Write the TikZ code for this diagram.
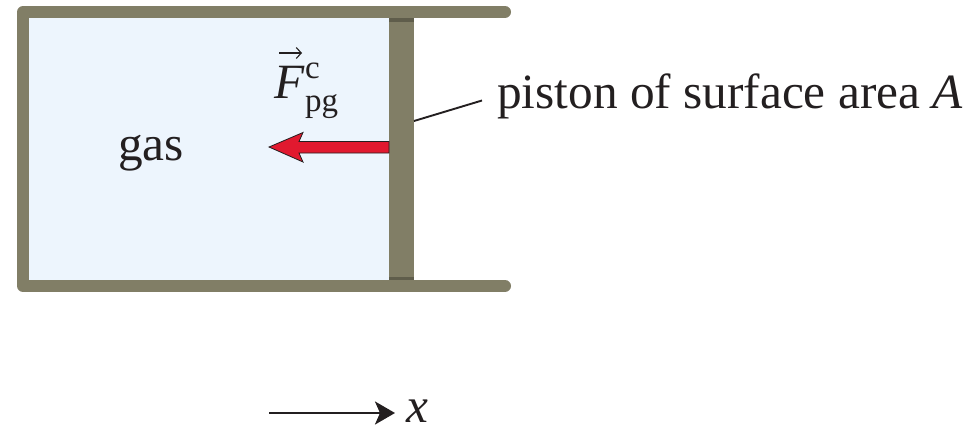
\documentclass[tikz,border=0pt]{standalone}
\usepackage{fontspec}
\setmainfont{Liberation Serif}
\usetikzlibrary{arrows.meta}
\definecolor{wall}{HTML}{817E66}
\definecolor{walld}{HTML}{5F5D4B}
\definecolor{gasc}{HTML}{EDF5FD}
\definecolor{redc}{HTML}{E1192F}
\definecolor{ink}{HTML}{231F20}
\tikzset{x=1pt,y=-1pt,
  lab/.style={inner sep=0pt,anchor=base west,text=ink},
  big/.style={font=\fontsize{49.3}{49.3}\selectfont},
  small/.style={font=\fontsize{33}{33}\selectfont},
  leader/.style={draw=ink,line width=1.9pt},
}
\begin{document}
\begin{tikzpicture}
\useasboundingbox (0,0) rectangle (969,426);
\fill[gasc] (29,18) rectangle (389,280);
\draw[wall,line width=12pt,line cap=round,line join=round] (505,12) -- (23,12) -- (23,286) -- (505,286);
\fill[wall] (389,18) rectangle (414,280);
\fill[walld] (389,18) rectangle (414,21.5);
\fill[walld] (389,276.5) rectangle (414,280);
\draw[draw=ink,line width=.8pt,fill=redc,line join=miter] (389,141.5) -- (299,141.5) -- (303,132.5) -- (269,147) -- (303,162) -- (299,153) -- (389,153) -- cycle;
\node[lab,big] (gas) at (118,160) {gas};
\node[lab,big] (pist) at (497,108.5) {piston of surface area \textit{A}};
\coordinate (pistedge) at (414,121);
\draw[leader] (pistedge) -- (482,100.5);
\node[lab,big] (ff) at (274,98) {\textit{F}};
\node[lab,small] (fc) at (305,78) {c};
\node[lab,small] (fs) at (305,111) {pg};
\coordinate (va) at (279,53);
\coordinate (vb) at (302,53);
\draw[draw=ink,line width=1.1pt,-{Straight Barb[length=5pt,width=11pt]}] (va) -- (vb);
\coordinate (xa) at (269,413);
\node[lab,big] (xl) at (406,422) {\textit{x}};
\draw[draw=ink,line width=2.6pt,-{Stealth[length=20pt,width=23pt,inset=5pt]}] (xa) -- (395,413);
\end{tikzpicture}
\end{document}
